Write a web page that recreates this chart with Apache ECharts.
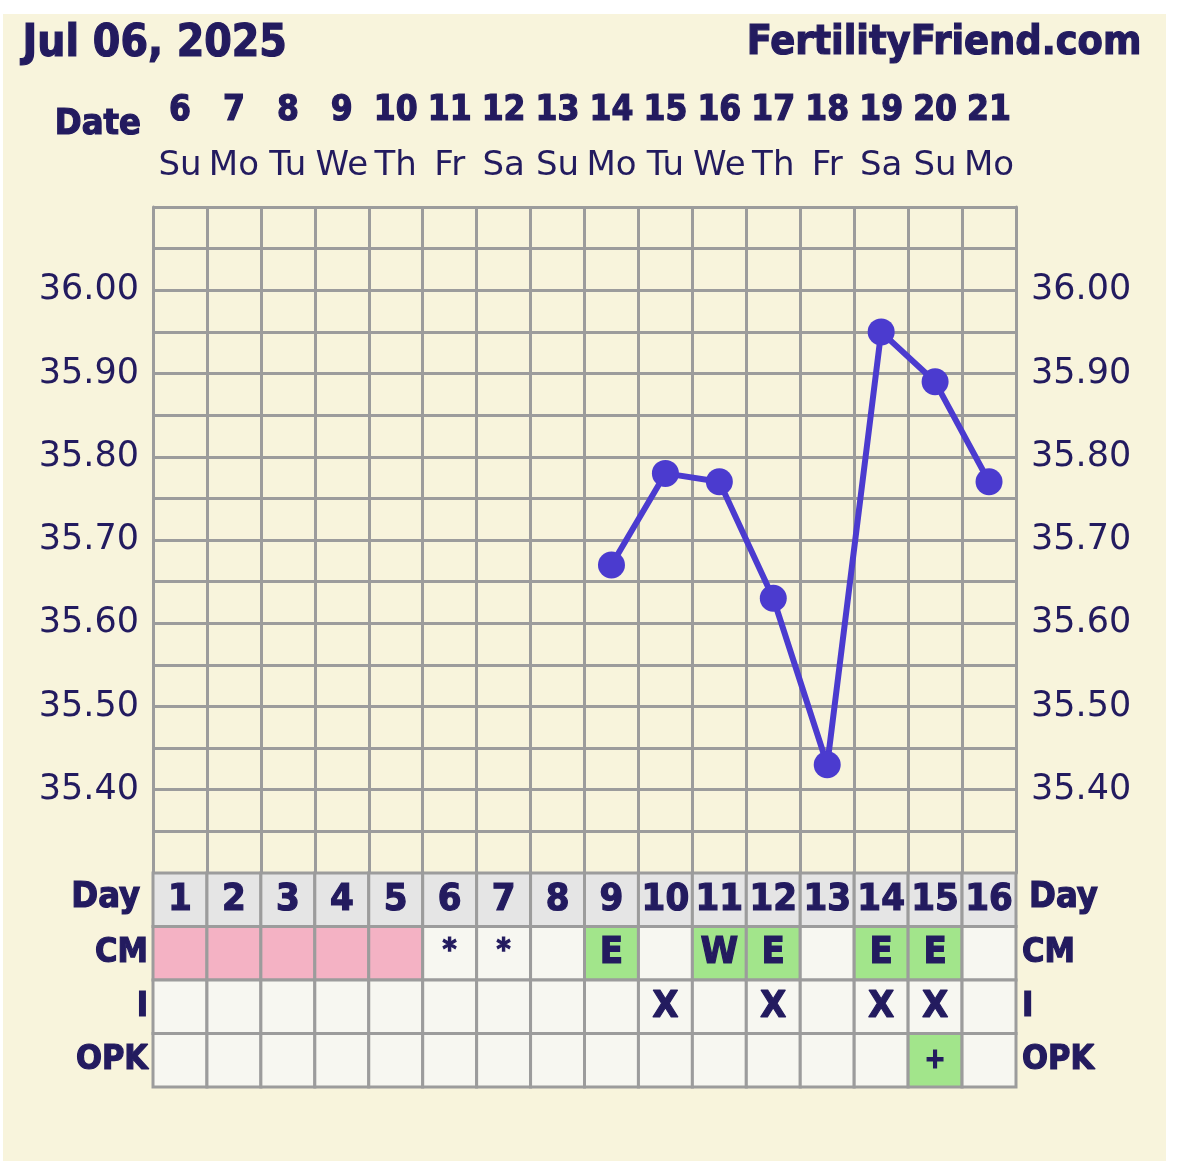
<!DOCTYPE html>
<html>
<head>
<meta charset="utf-8">
<script src="https://cdn.jsdelivr.net/npm/echarts@6/dist/echarts.min.js"></script>
<style>
  html, body { margin:0; padding:0; background:#ffffff; }
  #bg { position:absolute; left:3px; top:14px; width:1163px; height:1147px; background:#f8f4dc; }
  #chart { position:absolute; left:0; top:0; width:1179px; height:1161px; }
</style>
</head>
<body>
<div id="bg"></div>
<div id="chart"></div>
<script>
// ---- data ----
const dates = ['6','7','8','9','10','11','12','13','14','15','16','17','18','19','20','21'];
const weekdays = ['Su','Mo','Tu','We','Th','Fr','Sa','Su','Mo','Tu','We','Th','Fr','Sa','Su','Mo'];
const cycleDays = ['1','2','3','4','5','6','7','8','9','10','11','12','13','14','15','16'];
const temps = [null,null,null,null,null,null,null,null,35.67,35.78,35.77,35.63,35.43,35.95,35.89,35.77];
// CM: P = period (pink), * = spotting mark, E / W = fertile mucus
const cm = ['P','P','P','P','P','*','*','','E','','W','E','','E','E',''];
const intercourse = ['','','','','','','','','','X','','X','','X','X',''];
const opk = ['','','','','','','','','','','','','','','+',''];
const rowLabels = ['Day','CM','I','OPK'];
const yTickLabels = ['35.40','35.50','35.60','35.70','35.80','35.90','36.00'];
const headerDate = 'Jul 06, 2025';
const headerSite = 'FertilityFriend.com';

// ---- style ----
const NAVY = '#231b5f';
const GRAY = '#9c9c9c';
const LINE = '#4b3bcf';
const BOLD = "'DejaVu Sans Condensed', 'DejaVu Sans', sans-serif";
const REG = "'DejaVu Sans', sans-serif";

const cells = [];
for (let d = 0; d < 16; d++) {
  cells.push([d, 0, cycleDays[d], 'day']);
  cells.push([d, 1, cm[d] === 'P' ? '' : cm[d], cm[d] === 'P' ? 'pink' : (cm[d] === 'E' || cm[d] === 'W') ? 'green' : 'plain']);
  cells.push([d, 2, intercourse[d], 'plain']);
  cells.push([d, 3, opk[d], opk[d] === '+' ? 'green' : 'plain']);
}
const fills = { day:'#e5e5e5', pink:'#f4b2c4', green:'#a2e58b', plain:'#f7f7f1' };

function yLabel(v) {
  const s = (Math.round(v * 100) / 100).toFixed(2);
  return yTickLabels.indexOf(s) >= 0 ? s : '';
}

const boldLabel = { color: NAVY, fontFamily: BOLD, fontWeight: 'bold', textBorderColor: NAVY, textBorderWidth: 1.2 };

const chart = echarts.init(document.getElementById('chart'), null, { renderer: 'canvas' });
const option = {
  animation: false,
  grid: [
    { left: 153, width: 863, top: 207, height: 666 },
    { left: 153, width: 863, top: 873, height: 214 }
  ],
  xAxis: [
    { gridIndex: 0, type: 'category', data: weekdays, position: 'top', boundaryGap: true,
      axisLine: { show: false }, axisTick: { show: false },
      axisLabel: { interval: 0, margin: 41, verticalAlign: 'middle', color: NAVY, fontFamily: REG, fontSize: 34 },
      splitLine: { show: true, interval: 0, lineStyle: { color: GRAY, width: 3 } } },
    { gridIndex: 0, type: 'category', data: dates, position: 'top', boundaryGap: true,
      axisLine: { show: false }, axisTick: { show: false },
      axisLabel: Object.assign({ interval: 0, margin: 96, verticalAlign: 'middle', fontSize: 35 }, boldLabel),
      splitLine: { show: false } },
    { gridIndex: 1, type: 'category', data: cycleDays, show: false }
  ],
  yAxis: [
    { gridIndex: 0, type: 'value', min: 35.30, max: 36.10, interval: 0.05, position: 'left',
      axisLine: { show: true, lineStyle: { color: GRAY, width: 3 } }, axisTick: { show: false },
      axisLabel: { margin: 14, formatter: yLabel, color: NAVY, fontFamily: REG, fontSize: 35 },
      splitLine: { show: true, lineStyle: { color: GRAY, width: 3 } } },
    { gridIndex: 0, type: 'value', min: 35.30, max: 36.10, interval: 0.05, position: 'right',
      axisLine: { show: true, lineStyle: { color: GRAY, width: 3 } }, axisTick: { show: false },
      axisLabel: { margin: 15, formatter: yLabel, color: NAVY, fontFamily: REG, fontSize: 35 },
      splitLine: { show: false } },
    { gridIndex: 1, type: 'category', data: rowLabels, inverse: true, position: 'left',
      axisLine: { show: false }, axisTick: { show: false },
      axisLabel: Object.assign({ margin: 5, fontSize: 34,
        formatter: v => v === 'Day' ? '{d|Day}' : v,
        rich: { d: { fontSize: 36, fontFamily: BOLD, fontWeight: 'bold', color: NAVY, textBorderColor: NAVY, textBorderWidth: 1.2, padding: [0, 8, 4, 0] } } }, boldLabel) },
    { gridIndex: 1, type: 'category', data: rowLabels, inverse: true, position: 'right',
      axisLine: { show: false }, axisTick: { show: false },
      axisLabel: Object.assign({ margin: 6, fontSize: 34,
        formatter: v => v === 'Day' ? '{d|Day}' : v,
        rich: { d: { fontSize: 36, fontFamily: BOLD, fontWeight: 'bold', color: NAVY, textBorderColor: NAVY, textBorderWidth: 1.2, padding: [0, 0, 4, 7] } } }, boldLabel) }
  ],
  graphic: [
    { type: 'text', left: 22, top: 22, style: { text: headerDate, font: "bold 44px " + BOLD, fill: NAVY, stroke: NAVY, lineWidth: 1.2 } },
    { type: 'text', right: 37, top: 22, style: { text: headerSite, font: "bold 41px " + BOLD, fill: NAVY, stroke: NAVY, lineWidth: 1.2 } },
    { type: 'text', x: 141, y: 125, style: { text: 'Date', font: "bold 36px " + BOLD, fill: NAVY, stroke: NAVY, lineWidth: 1.2, align: 'right', verticalAlign: 'middle' } }
  ],
  series: [
    { type: 'line', xAxisIndex: 0, yAxisIndex: 0, data: temps, connectNulls: false,
      symbol: 'circle', symbolSize: 27, showSymbol: true,
      lineStyle: { color: LINE, width: 6 }, itemStyle: { color: LINE }, z: 5 },
    { type: 'custom', xAxisIndex: 2, yAxisIndex: 2, data: cells,
      renderItem: function (params, api) {
        const c = api.coord([api.value(0), api.value(1)]);
        const s = api.size([1, 1]);
        const item = cells[params.dataIndex];
        const text = item[2];
        const kind = item[3];
        let size = 38;
        if (text === '*') size = 30;
        if (text === '+') size = 28;
        return { type: 'group', children: [
          { type: 'rect', shape: { x: c[0] - s[0] / 2, y: c[1] - s[1] / 2, width: s[0], height: s[1] },
            style: { fill: fills[kind], stroke: GRAY, lineWidth: 3 } },
          { type: 'text', style: { text: text, x: c[0], y: c[1] + (text === '*' ? -2 : 0), align: 'center', verticalAlign: 'middle',
            font: 'bold ' + size + 'px ' + BOLD, fill: NAVY, stroke: NAVY, lineWidth: 1.2 } }
        ] };
      } }
  ]
};
chart.setOption(option);
</script>
</body>
</html>
